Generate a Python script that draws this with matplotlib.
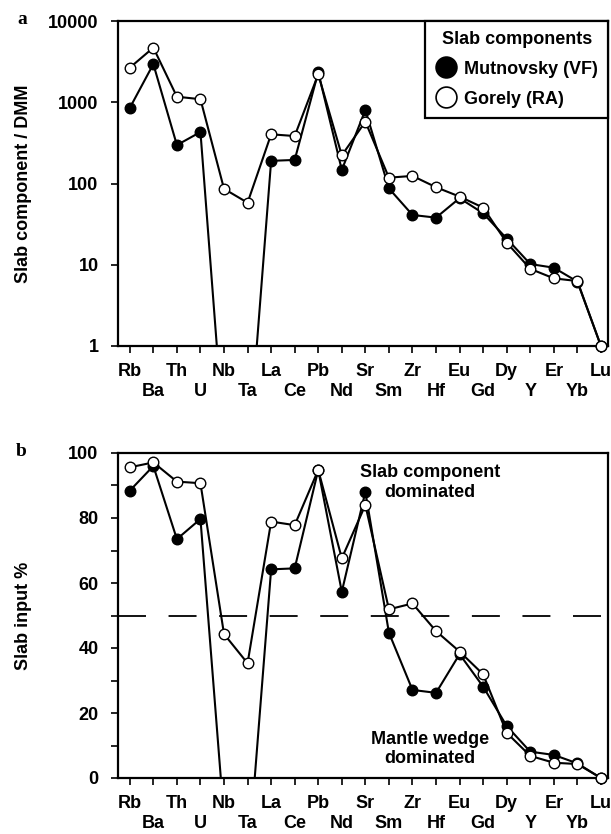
import matplotlib
matplotlib.use("Agg")
import matplotlib.pyplot as plt
import numpy as np
from matplotlib.lines import Line2D
from matplotlib.transforms import blended_transform_factory

elements = ["Rb", "Ba", "Th", "U", "Nb", "Ta", "La", "Ce", "Pb", "Nd", "Sr",
            "Sm", "Zr", "Hf", "Eu", "Gd", "Dy", "Y", "Er", "Yb", "Lu"]

# Panel a: slab component / DMM
mut_dmm = [850, 2950, 297, 430, 0.07, 0.035, 190, 195, 2340, 147, 803,
           87, 41, 38, 66, 43, 21, 10.2, 9.2, 6.2, 1.0]
gor_dmm = [2660, 4700, 1170, 1090, 86, 58, 403, 384, 2210, 222, 577,
           118, 124, 90, 69, 50.5, 18.7, 8.9, 6.8, 6.3, 1.0]

# Panel b: slab input %
mut_pct = [88.4, 96.0, 73.5, 79.7, -12.5, -28.0, 64.2, 64.5, 94.8, 57.3, 88.1,
           44.7, 27.1, 26.2, 38.1, 28.1, 16.0, 8.1, 7.1, 4.5, 0.0]
gor_pct = [95.6, 97.1, 91.2, 90.7, 44.3, 35.3, 78.9, 77.8, 94.8, 67.6, 84.0,
           51.9, 53.7, 45.2, 38.9, 31.9, 13.9, 6.8, 4.7, 4.3, 0.0]

a_yticks = [1, 10, 100, 1000, 10000]
b_yticks = [0, 20, 40, 60, 80, 100]
threshold = 50

FS = 13
plt.rcParams['font.family'] = ['Liberation Sans', 'DejaVu Sans']
plt.rcParams['font.weight'] = 'bold'
plt.rcParams['font.size'] = FS

W, H = 611, 834
fig = plt.figure(figsize=(W / 100, H / 100), dpi=100)

def fr(l, t, r, b):
    return [l / W, 1 - b / H, (r - l) / W, (b - t) / H]

ax_a = fig.add_axes(fr(118, 21, 608, 346))
ax_b = fig.add_axes(fr(118, 453, 608, 778))

x = np.arange(len(elements))
LW = 1.5
MS = 7.6

def draw(ax, mut, gor, ymin):
    mut = np.asarray(mut, float)
    gor = np.asarray(gor, float)
    for vals, fc, z in [(mut, 'black', 3), (gor, 'white', 5)]:
        ax.plot(x, vals, color='black', lw=LW, zorder=z, solid_joinstyle='miter')
        m = vals >= ymin - 1e-9
        ax.plot(x[m], vals[m], ls='none', marker='o', ms=MS, mfc=fc, mec='black',
                mew=1.0, zorder=z + 1, clip_on=False)
    ax.set_xlim(-0.5, 20.3)
    ax.set_xticks(x)
    ax.set_xticklabels([])
    ax.tick_params(axis='both', which='both', direction='out', length=5, width=1.2,
                   top=False, right=False)
    ax.tick_params(axis='y', which='major', pad=9, labelsize=FS)
    ax.tick_params(axis='y', which='minor', length=5)
    for s in ax.spines.values():
        s.set_linewidth(1.6)
    tr = blended_transform_factory(ax.transData, ax.transAxes)
    for i, el in enumerate(elements):
        yy = -25 / 325 if i % 2 == 0 else -46 / 325
        ax.text(i, yy, el, transform=tr, ha='center', va='center',
                fontsize=FS, fontweight='bold')

# Panel a
ax_a.set_yscale('log')
draw(ax_a, mut_dmm, gor_dmm, 1)
ax_a.set_ylim(1, 10000)
ax_a.set_yticks(a_yticks)
ax_a.set_yticklabels([str(v) for v in a_yticks])
ax_a.yaxis.set_minor_locator(matplotlib.ticker.NullLocator())
ax_a.set_ylabel("Slab component / DMM", fontsize=FS, fontweight='bold')
ax_a.yaxis.set_label_coords(-(118 - 32) / 490, 0.5)

handles = [Line2D([], [], ls='none', marker='o', ms=15, mfc='black', mec='black', mew=1.2),
           Line2D([], [], ls='none', marker='o', ms=15, mfc='white', mec='black', mew=1.2)]
leg = ax_a.legend(handles, ["Mutnovsky (VF)", "Gorely (RA)"], title="Slab components",
                  loc='upper right', fancybox=False, framealpha=1,
                  edgecolor='black', prop={'weight': 'bold', 'size': FS},
                  title_fontproperties={'weight': 'bold', 'size': FS},
                  handletextpad=0.4, handlelength=1.2, handleheight=1.0,
                  labelspacing=0.65, borderpad=0.55, borderaxespad=0)
leg.get_frame().set_linewidth(1.6)
leg.set_zorder(10)

# Panel b
draw(ax_b, mut_pct, gor_pct, 0)
ax_b.set_ylim(0, 100)
ax_b.set_yticks(b_yticks)
ax_b.set_yticks([10, 30, 50, 70, 90], minor=True)
ax_b.axhline(threshold, color='black', lw=1.3, ls=(0, (15.5, 12.5)), zorder=2)
ax_b.set_ylabel("Slab input %", fontsize=FS, fontweight='bold')
ax_b.yaxis.set_label_coords(-(118 - 32) / 490, 0.5)
ax_b.text(12.75, 90.9, "Slab component\ndominated", ha='center', va='center',
          linespacing=1.2, fontsize=FS)
ax_b.text(12.75, 8.9, "Mantle wedge\ndominated", ha='center', va='center',
          linespacing=1.2, fontsize=FS)

# Panel letters
fig.text(22 / W, 1 - 20 / H, "a", family=['Liberation Serif'], fontweight='bold',
         fontsize=14, ha='center', va='center')
fig.text(21 / W, 1 - 452 / H, "b", family=['Liberation Serif'], fontweight='bold',
         fontsize=14, ha='center', va='center')

fig.savefig("out.png", dpi=100)
